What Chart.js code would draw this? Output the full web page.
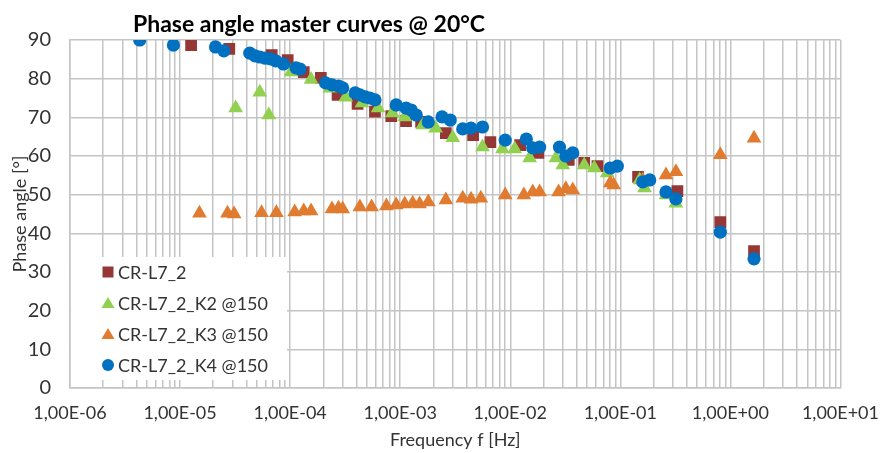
<!DOCTYPE html>
<html>
<head>
<meta charset="utf-8">
<title>Phase angle master curves</title>
<script src="https://cdn.jsdelivr.net/npm/chart.js@4.4.0/dist/chart.umd.min.js"></script>
<style>
  html, body { margin: 0; padding: 0; background: #fff; }
</style>
</head>
<body>
<canvas id="phaseChart" width="893" height="453"></canvas>
<script>
// Frekvence [Hz] a fázový úhel [°] pro jednotlivé vzorky
const freqL7 = [1.26e-5, 2.8e-5, 6.8e-5, 9.5e-5, 1.33e-4, 1.9e-4, 2.7e-4, 4.1e-4, 5.9e-4, 8.3e-4,
  1.13e-3, 1.55e-3, 2.6e-3, 4.6e-3, 6.6e-3, 1.23e-2, 1.8e-2, 3.4e-2, 4.7e-2, 6.2e-2,
  0.145, 0.33, 0.81, 1.64];
const phaseL7 = [88.7, 87.7, 86.1, 84.8, 81.7, 80.2, 75.8, 73.5, 71.5, 70.3,
  69.0, 68.8, 65.9, 65.4, 63.6, 62.8, 60.8, 59.0, 58.2, 57.4,
  54.6, 50.9, 42.9, 35.4];

const freqK2 = [3.2e-5, 5.3e-5, 6.4e-5, 1.02e-4, 1.55e-4, 2.3e-4, 3.2e-4, 4.5e-4, 6.3e-4, 8.5e-4,
  1.1e-3, 1.6e-3, 2.1e-3, 3.0e-3, 5.6e-3, 8.5e-3, 1.1e-2, 1.5e-2, 2.6e-2, 3.0e-2,
  4.7e-2, 5.8e-2, 7.6e-2, 0.15, 0.166, 0.26, 0.32];
const phaseK2 = [72.4, 76.5, 70.6, 81.7, 79.8, 77.5, 75.2, 73.7, 72.4, 71.1,
  70.1, 68.0, 67.2, 64.7, 62.3, 61.8, 61.8, 59.5, 59.5, 57.7,
  57.7, 56.9, 55.6, 53.8, 51.7, 49.9, 47.8];

const freqK3 = [1.5e-5, 2.7e-5, 3.1e-5, 5.5e-5, 7.5e-5, 1.1e-4, 1.33e-4, 1.55e-4, 2.4e-4, 2.75e-4,
  3.0e-4, 4.3e-4, 5.5e-4, 7.5e-4, 9.2e-4, 1.1e-3, 1.3e-3, 1.5e-3, 1.8e-3, 2.6e-3,
  3.7e-3, 4.4e-3, 5.4e-3, 9.0e-3, 1.33e-2, 1.6e-2, 1.85e-2, 2.75e-2, 3.2e-2, 3.7e-2,
  8.1e-2, 8.7e-2, 0.16, 0.26, 0.32, 0.81, 1.64];
const phaseK3 = [45.2, 45.2, 45.0, 45.3, 45.3, 45.5, 45.8, 45.8, 46.3, 46.5,
  46.3, 46.8, 46.8, 47.1, 47.3, 47.6, 47.8, 47.6, 48.1, 48.6,
  49.1, 48.8, 49.1, 49.9, 49.9, 50.7, 50.7, 50.7, 51.5, 51.2,
  53.0, 52.5, 53.8, 55.1, 55.9, 60.3, 64.6];

const freqK4 = [4.3e-6, 8.7e-6, 2.1e-5, 2.5e-5, 4.3e-5, 4.8e-5, 5.3e-5, 5.9e-5, 6.6e-5, 7.4e-5,
  8.7e-5, 1.13e-4, 1.23e-4, 2.1e-4, 2.4e-4, 2.75e-4, 3.0e-4, 3.9e-4, 4.3e-4, 4.8e-4,
  5.3e-4, 5.9e-4, 9.2e-4, 1.13e-3, 1.26e-3, 1.4e-3, 1.8e-3, 2.4e-3, 2.85e-3, 3.7e-3,
  4.4e-3, 5.6e-3, 9.0e-3, 1.4e-2, 1.6e-2, 1.85e-2, 2.8e-2, 3.2e-2, 3.7e-2, 8.1e-2,
  9.4e-2, 0.16, 0.185, 0.26, 0.32, 0.81, 1.64];
const phaseK4 = [90.0, 88.7, 88.2, 87.2, 86.6, 85.9, 85.6, 85.3, 85.1, 84.6,
  83.8, 82.8, 82.5, 78.9, 78.4, 78.1, 77.6, 76.3, 75.8, 75.3,
  75.0, 74.5, 73.2, 72.4, 71.9, 70.6, 68.8, 70.1, 69.3, 67.0,
  67.2, 67.5, 64.1, 64.4, 62.1, 62.3, 62.3, 60.0, 60.8, 56.9,
  57.4, 53.3, 53.8, 50.7, 48.9, 40.3, 33.4];

const seriesNames = ['CR-L7_2', 'CR-L7_2_K2 @150', 'CR-L7_2_K3 @150', 'CR-L7_2_K4 @150'];
const yTickValues = [0, 10, 20, 30, 40, 50, 60, 70, 80, 90];

const gridColor = '#c4c4c4';
const textColor = '#333333';
const fontName = 'Lato, "Open Sans", sans-serif';

// Logaritmická mřížka 1..9 v každé dekádě
const logTicks = [];
for (let e = -6; e <= 0; e++) {
    for (let m = 1; m <= 9; m++) {
        logTicks.push(Number((m * Math.pow(10, e)).toPrecision(3)));
    }
}
logTicks.push(10);

function isPow10(v) {
    const l = Math.log10(v);
    return Math.abs(l - Math.round(l)) < 1e-9;
}

// Popisky ve stylu Excelu: 1,00E-06
function sciLabel(v) {
    const e = Math.round(Math.log10(v));
    return '1,00E' + (e < 0 ? '-' : '+') + String(Math.abs(e)).padStart(2, '0');
}

function toPoints(xs, ys) {
    return xs.map((x, i) => ({ x: x, y: ys[i] }));
}

const styles = [
    { color: '#953735', point: 'rect', radius: 8.3 },
    { color: '#92d050', point: 'triangle', radius: 8.5 },
    { color: '#e07b30', point: 'triangle', radius: 8.5 },
    { color: '#0070c0', point: 'circle', radius: 6.6 }
];

const seriesData = [
    toPoints(freqL7, phaseL7),
    toPoints(freqK2, phaseK2),
    toPoints(freqK3, phaseK3),
    toPoints(freqK4, phaseK4)
];

// Titulek grafu
const titlePlugin = {
    id: 'chartTitle',
    afterDraw(chart) {
        const ctx = chart.ctx;
        ctx.save();
        ctx.fillStyle = '#000';
        ctx.font = 'bold 23px ' + fontName;
        ctx.textBaseline = 'alphabetic';
        ctx.textAlign = 'left';
        ctx.fillText('Phase angle master curves @ 20°C', 133, 32);
        ctx.restore();
    }
};

// Legenda uvnitř grafu (vlevo dole)
const insideLegend = {
    id: 'insideLegend',
    afterDraw(chart) {
        const ctx = chart.ctx;
        const area = chart.chartArea;
        const boxX = area.left + 1, boxY = 257, boxW = 216, boxH = 123;
        ctx.save();
        ctx.fillStyle = '#fff';
        ctx.fillRect(boxX, boxY, boxW, boxH);
        ctx.font = '18px ' + fontName;
        ctx.textBaseline = 'middle';
        ctx.textAlign = 'left';
        seriesNames.forEach((name, i) => {
            const cy = 272 + i * 31;
            const cx = 108;
            const st = styles[i];
            ctx.fillStyle = st.color;
            ctx.beginPath();
            if (st.point === 'rect') {
                ctx.rect(cx - 5.5, cy - 5.5, 11, 11);
            } else if (st.point === 'triangle') {
                ctx.moveTo(cx, cy - 6);
                ctx.lineTo(cx + 6.5, cy + 5);
                ctx.lineTo(cx - 6.5, cy + 5);
                ctx.closePath();
            } else {
                ctx.arc(cx, cy, 6, 0, Math.PI * 2);
            }
            ctx.fill();
            ctx.fillStyle = textColor;
            ctx.fillText(name, 118, cy + 1);
        });
        ctx.restore();
    }
};

const ctx = document.getElementById('phaseChart').getContext('2d');
new Chart(ctx, {
    type: 'scatter',
    data: {
        datasets: seriesNames.map((name, i) => ({
            label: name,
            data: seriesData[i],
            pointStyle: styles[i].point,
            pointRadius: styles[i].radius,
            pointHoverRadius: styles[i].radius,
            pointBackgroundColor: styles[i].color,
            pointBorderWidth: 0,
            borderColor: styles[i].color,
            backgroundColor: styles[i].color,
            showLine: false,
            clip: 0,
            order: seriesNames.length - i // modré body navrchu
        }))
    },
    options: {
        responsive: false,
        animation: false,
        layout: { padding: { left: 0, top: 40, right: 37, bottom: 0 } },
        plugins: {
            legend: { display: false },
            tooltip: { enabled: false },
            title: { display: false }
        },
        scales: {
            x: {
                type: 'logarithmic',
                min: 1e-6,
                max: 10,
                afterBuildTicks: scale => { scale.ticks = logTicks.map(v => ({ value: v, major: isPow10(v) })); },
                afterFit: scale => { scale.height = 65; },
                grid: { color: gridColor, lineWidth: 1.5, drawTicks: false },
                border: { color: gridColor, width: 1.5 },
                ticks: {
                    autoSkip: false,
                    maxRotation: 0,
                    padding: 14,
                    color: textColor,
                    font: { family: fontName, size: 18 },
                    callback: v => isPow10(v) ? sciLabel(v) : ''
                },
                title: {
                    display: true,
                    text: 'Frequency f [Hz]',
                    color: textColor,
                    font: { family: fontName, size: 18 },
                    padding: { top: 0, bottom: 2 }
                }
            },
            y: {
                min: 0,
                max: 90,
                afterBuildTicks: scale => { scale.ticks = yTickValues.map(v => ({ value: v })); },
                afterFit: scale => { scale.width = 70; },
                grid: { color: gridColor, lineWidth: 1.5, drawTicks: false },
                border: { color: gridColor, width: 1.5 },
                ticks: {
                    padding: 19,
                    color: textColor,
                    font: { family: fontName, size: 20 }
                },
                title: {
                    display: true,
                    text: 'Phase angle [°]',
                    color: textColor,
                    font: { family: fontName, size: 18 },
                    padding: { top: 9, bottom: 0 }
                }
            }
        }
    },
    plugins: [titlePlugin, insideLegend]
});
</script>
</body>
</html>
